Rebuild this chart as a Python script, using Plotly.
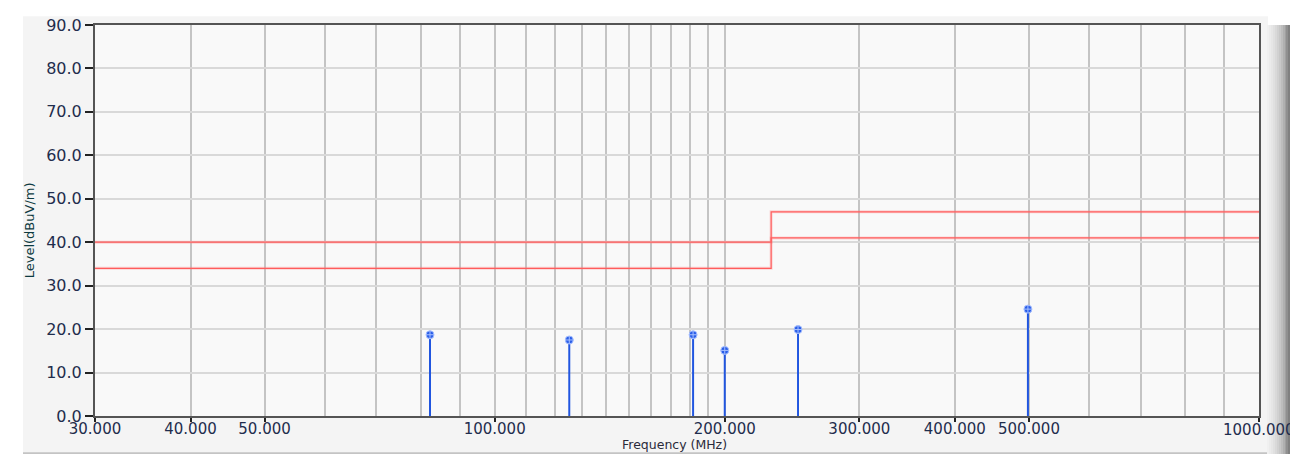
import plotly.graph_objects as go

# ---- data ----
limit_freq = [30, 230, 1000]
limit_upper = [40, 47, 47]
limit_lower = [34, 41, 41]

peak_freq = [82.3, 125.2, 181.8, 200.0, 249.4, 498.5]
peak_level = [18.7, 17.5, 18.7, 15.1, 19.9, 24.6]

x_tickvals = [30, 40, 50, 100, 200, 300, 400, 500, 1000]
x_ticktext = ["30.000", "40.000", "50.000", "100.000", "200.000", "300.000", "400.000", "500.000", ""]
x_last_label = "1000.000"
x_minor_grid = [60, 70, 80, 90, 110, 120, 130, 140, 150, 160, 170, 180, 190, 600, 700, 800, 900]
y_tickvals = [0, 10, 20, 30, 40, 50, 60, 70, 80, 90]

OFF = 8  # browser body margin
W, H = 1298 - 2 * OFF, 462 - 2 * OFF
# plot area in page pixels
L, R, T, B = 95, 1259, 16, 416

def px(x):
    return (x - L) / (R - L)

def py(y):
    return (B - y) / (B - T)

fig = go.Figure()

# limit lines
for vals in (limit_upper, limit_lower):
    fig.add_trace(go.Scatter(x=limit_freq, y=vals, mode="lines",
                             line=dict(color="rgba(255,130,130,0.30)", width=3, shape="hv"),
                             hoverinfo="skip"))
    fig.add_trace(go.Scatter(x=limit_freq, y=vals, mode="lines",
                             line=dict(color="#ff5c5c", width=1.2, shape="hv")))

# stems
sx, sy = [], []
for f, v in zip(peak_freq, peak_level):
    sx += [f, f, None]
    sy += [0, v, None]
fig.add_trace(go.Scatter(x=sx, y=sy, mode="lines", line=dict(color="#2156e0", width=2)))
fig.add_trace(go.Scatter(x=peak_freq, y=peak_level, mode="markers",
                         marker=dict(symbol="circle-cross", size=8, color="#2a5ee8",
                                     line=dict(color="#a8c0ff", width=1))))

shapes = []
# outer panel
shapes.append(dict(type="rect", xref="paper", yref="paper", layer="below",
                   x0=px(23), x1=px(1268), y0=py(455), y1=py(7),
                   fillcolor="#f4f4f4", line=dict(width=0)))
shapes.append(dict(type="rect", xref="paper", yref="paper", layer="below",
                   x0=0, x1=1, y0=0, y1=1,
                   fillcolor="#f9f9f9", line=dict(width=0)))
shapes.append(dict(type="line", xref="paper", yref="paper", layer="below",
                   x0=px(23), x1=px(1268), y0=py(454), y1=py(454),
                   line=dict(color="#c4c4c4", width=2)))
# right shadow gradient
shade = ["#f0f0f0", "#ebebeb", "#e6e6e6", "#e0e0e0", "#d9d9d9", "#d1d1d1", "#c8c8c8",
         "#bdbdbd", "#b0b0b0", "#a0a0a0"]
for i, c in enumerate(shade):
    shapes.append(dict(type="rect", xref="paper", yref="paper", layer="below",
                       x0=px(1267 + 2 * i), x1=px(1269 + 2 * i), y0=py(458), y1=py(16),
                       fillcolor=c, line=dict(width=0)))
for i, c in enumerate(["#909090", "#808080"]):
    shapes.append(dict(type="rect", xref="paper", yref="paper", layer="above",
                       x0=px(1286 + 2 * i), x1=px(1288 + 2 * i), y0=py(458), y1=py(16),
                       fillcolor=c, line=dict(width=0)))

fig.update_layout(
    width=W, height=H,
    margin=dict(l=L - OFF, r=(1298 - OFF) - R, t=T - OFF, b=(462 - OFF) - B),
    paper_bgcolor="white",
    plot_bgcolor="#f9f9f9",
    showlegend=False,
    shapes=shapes,
    font=dict(family="DejaVu Sans", size=14, color="#1f2d4d"),
    xaxis=dict(
        type="log", range=[1.4771, 3.0],
        tickmode="array", tickvals=x_tickvals, ticktext=x_ticktext,
        ticks="outside", ticklen=4, tickwidth=1.5, tickcolor="#222",
        ticklabelstandoff=-6,
        showgrid=True, gridcolor="#c4c4c4", gridwidth=2,
        minor=dict(tickmode="array", tickvals=x_minor_grid, showgrid=True,
                   gridcolor="#c4c4c4", gridwidth=2, ticks=""),
        showline=True, linecolor="#555", linewidth=2, mirror=True,
        zeroline=False,
        tickfont=dict(family="DejaVu Sans", size=15, color="#1f2d4d"),
    ),
    yaxis=dict(
        range=[0, 90],
        tickmode="array", tickvals=y_tickvals, tickformat=".1f",
        ticks="outside", ticklen=8, tickwidth=1.5, tickcolor="#222",
        showgrid=True, gridcolor="#d9d9d9", gridwidth=1.5,
        showline=True, linecolor="#555", linewidth=2, mirror=True,
        zeroline=False,
        tickfont=dict(family="DejaVu Sans", size=16, color="#1f2d4d"),
    ),
    annotations=[
        dict(text=x_last_label, xref="paper", yref="paper",
             x=1, y=py(419), xanchor="center", yanchor="top",
             showarrow=False, font=dict(family="DejaVu Sans", size=15, color="#1f2d4d")),
        dict(text="Frequency (MHz)", xref="paper", yref="paper",
             x=px(674), y=py(455), xanchor="center", yanchor="bottom",
             showarrow=False, font=dict(family="DejaVu Sans", size=12.5, color="#2a2a3a")),
        dict(text="Level(dBuV/m)", xref="paper", yref="paper",
             x=px(29), y=py(226), xanchor="center", yanchor="middle", textangle=-90,
             showarrow=False, font=dict(family="DejaVu Sans", size=13, color="#0d3a40")),
    ],
)

fig.write_html("out.html", config={"displayModeBar": False})
